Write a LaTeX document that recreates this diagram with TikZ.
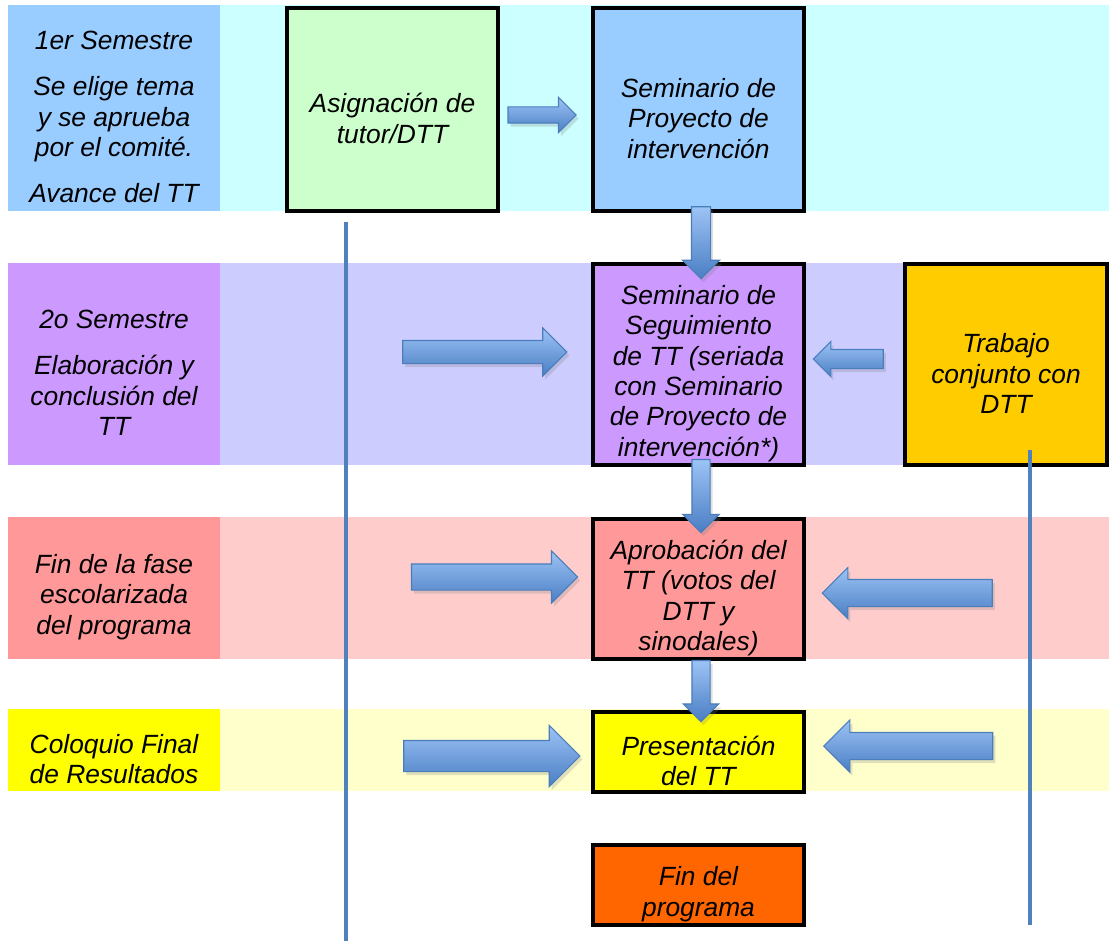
\documentclass[tikz,border=0pt]{standalone}
\usepackage{fontspec}
\setmainfont{Liberation Sans}
\usetikzlibrary{positioning, shapes.arrows, shadows}
\definecolor{leadA}{HTML}{99CCFF}
\definecolor{bandA}{HTML}{CCFFFF}
\definecolor{leadB}{HTML}{CC99FF}
\definecolor{bandB}{HTML}{CCCCFF}
\definecolor{leadC}{HTML}{FF9999}
\definecolor{bandC}{HTML}{FFCCCC}
\definecolor{leadD}{HTML}{FFFF00}
\definecolor{bandD}{HTML}{FFFFCC}
\definecolor{asigfill}{HTML}{CCFFCC}
\definecolor{trabfill}{HTML}{FFCC00}
\definecolor{finfill}{HTML}{FF6600}
\definecolor{railblue}{HTML}{4F81BD}
\definecolor{fattop}{HTML}{9DC3F5}
\definecolor{fatbot}{HTML}{4A7EC4}
\definecolor{fatline}{HTML}{4A7EBB}
\newcommand*{\txt}{\itshape\fontsize{15}{17.3}\selectfont}
\tikzstyle{lead} = [inner sep=0pt, minimum width=42.4mm]
\tikzstyle{caption} = [font=\txt, align=center, yshift=-1.8mm]
\tikzstyle{stage} = [draw, line width=2.3pt, inner sep=0pt, minimum width=42.2mm]
\tikzstyle{fat} = [single arrow, draw=fatline, line width=0.6pt, top color=fattop, bottom color=fatbot, drop shadow={opacity=0.25, shadow xshift=0.5mm, shadow yshift=-0.7mm}]
\tikzstyle{rail} = [railblue, line width=2.3pt]

\begin{document}
\begin{tikzpicture}[x=0.2mm, y=-0.2mm]
    \path [use as bounding box, fill=white] (0,0) rectangle (1109,941);

    % Bands.
    \fill [bandA] (220,5) rectangle (1109,211);
    \fill [bandB] (220,263) rectangle (1109,465);
    \fill [bandC] (220,517) rectangle (1109,659);
    \fill [bandD] (220,709) rectangle (1109,791);

    \node (sem1) [lead, fill=leadA, minimum height=41.2mm, label={[caption]center:{1er Semestre\\[9pt]Se elige tema\\y se aprueba\\por el comité.\\[9pt]Avance del TT}}] at (114,108) {};
    \node (sem2) [lead, fill=leadB, minimum height=40.4mm, label={[caption]center:{2o Semestre\\[9pt]Elaboración y\\conclusión del\\TT}}] at (114,364) {};
    \node (fase) [lead, fill=leadC, minimum height=28.4mm, label={[caption]center:{Fin de la fase\\escolarizada\\del programa}}] at (114,588) {};
    \node (coloquio) [lead, fill=leadD, minimum height=16.4mm, label={[caption]center:{Coloquio Final\\de Resultados}}] at (114,750) {};

    % Stages.
    \node (asig) [stage, fill=asigfill, minimum height=40.6mm, label={[caption]center:{Asignación de\\tutor/DTT}}] at (392.5,109.5) {};
    \node (proy) [stage, fill=leadA, minimum height=40.6mm, label={[caption]center:{Seminario de\\Proyecto de\\intervención}}] at (698.5,109.5) {};
    \node (seg) [stage, fill=leadB, minimum height=40.2mm, label={[caption]center:{Seminario de\\Seguimiento\\de TT (seriada\\con Seminario\\de Proyecto de\\intervención*)}}] at (698.5,364.5) {};
    \node (trab) [stage, fill=trabfill, minimum width=40.4mm, minimum height=40.2mm, label={[caption]center:{Trabajo\\conjunto con\\DTT}}] at (1006,364.5) {};
    \node (aprob) [stage, fill=leadC, minimum height=28mm, label={[caption]center:{Aprobación del\\TT (votos del\\DTT y\\sinodales)}}] at (698.5,589) {};
    \node (pres) [stage, fill=leadD, minimum height=16mm, label={[caption]center:{Presentación\\del TT}}] at (698.5,752) {};
    \node (fin) [stage, fill=finfill, minimum height=16mm, label={[caption]center:{Fin del\\programa}}] at (698.5,885) {};

    % Rails.
    \coordinate (rail l) at (346,222);
    \coordinate (rail l end) at (346,941);
    \coordinate (rail r) at (1030,450);
    \coordinate (rail r end) at (1030,925);
    \draw [rail] (rail l) -- (rail l end);
    \draw [rail] (rail r) -- (rail r end);

    % Arrows.
    \node (asig to proy) [fat, minimum height=13.6mm, inner sep=1.5mm, single arrow head extend=1.9mm] at (538,115) {};
    \node (sem2 to seg) [fat, minimum height=32.8mm, inner sep=2.2mm, single arrow head extend=2.5mm] at (479,352) {};
    \node (trab to seg) [fat, minimum height=14mm, inner sep=1.8mm, single arrow head extend=1.6mm, shape border rotate=180] at (853,359) {};
    \node (fase to aprob) [fat, minimum height=33.2mm, inner sep=2.5mm, single arrow head extend=2.6mm] at (488,577) {};
    \node (trab to aprob) [fat, minimum height=34mm, inner sep=2.6mm, single arrow head extend=2.4mm, shape border rotate=180] at (914,593) {};
    \node (coloquio to pres) [fat, minimum height=35.2mm, inner sep=3mm, single arrow head extend=3mm] at (484,756) {};
    \node (trab to pres) [fat, minimum height=33.8mm, inner sep=2.6mm, single arrow head extend=2.5mm, shape border rotate=180] at (915,746) {};
    \node (proy to seg) [fat, minimum height=14.4mm, inner sep=1.8mm, single arrow head extend=1.8mm, shape border rotate=270] at (701,238) {};
    \node (seg to aprob) [fat, minimum height=14.6mm, inner sep=1.7mm, single arrow head extend=1.8mm, shape border rotate=270] at (701,491.5) {};
    \node (aprob to pres) [fat, minimum height=12.2mm, inner sep=1.7mm, single arrow head extend=1.7mm, shape border rotate=270] at (701,686.5) {};
\end{tikzpicture}
\end{document}
